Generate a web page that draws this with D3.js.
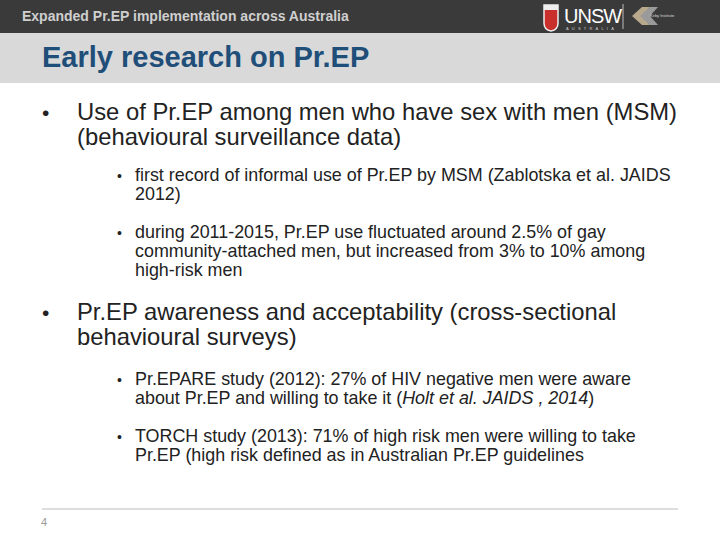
<!DOCTYPE html>
<html><head><meta charset="utf-8">
<script src="https://cdn.jsdelivr.net/npm/d3@7"></script>
<style>body{margin:0}svg{display:block;font-family:"Liberation Sans",Arial,sans-serif}</style>
</head><body><div id="chart"></div>
<script>
var headerText = "Expanded Pr.EP implementation across Australia";
var titleText = "Early research on Pr.EP";
var pageNumber = "4";
// level, lines (each line = array of [text, italic])
var items = [
  {level: 1, lines: [[["Use of Pr.EP among men who have sex with men (MSM)"]], [["(behavioural surveillance data)"]]]},
  {level: 2, lines: [[["first record of informal use of Pr.EP by MSM (Zablotska et al. JAIDS"]], [["2012)"]]]},
  {level: 2, lines: [[["during 2011-2015, Pr.EP use fluctuated around 2.5% of gay"]], [["community-attached men, but increased from 3% to 10% among"]], [["high-risk men"]]]},
  {level: 1, lines: [[["Pr.EP awareness and acceptability (cross-sectional"]], [["behavioural surveys)"]]]},
  {level: 2, lines: [[["Pr.EPARE study (2012): 27% of HIV negative men were aware"]], [["about Pr.EP and willing to take it ("], ["Holt et al. JAIDS , 2014", true], [")"]]]},
  {level: 2, lines: [[["TORCH study (2013): 71% of high risk men were willing to take"]], [["Pr.EP (high risk defined as in Australian Pr.EP guidelines"]]]}
];

var svg = d3.select("#chart").append("svg").attr("width", 720).attr("height", 540);
svg.append("rect").attr("width", 720).attr("height", 540).attr("fill", "#fff");
svg.append("rect").attr("width", 720).attr("height", 33).attr("fill", "#3a3a3a");
svg.append("rect").attr("y", 33).attr("width", 720).attr("height", 50).attr("fill", "#d9d9d9");
svg.append("text").attr("x", 22).attr("y", 21).attr("fill", "#cfcfcf").attr("font-size", 14).attr("font-weight", "bold").text(headerText);
svg.append("text").attr("x", 42).attr("y", 67).attr("fill", "#1f4e79").attr("font-size", 29).attr("font-weight", "bold").text(titleText);

// logos
var lg = svg.append("g");
lg.append("path").attr("d", "M544,5 h14 v18 q0,7 -7,8 q-7,-1 -7,-8 z").attr("fill", "#c9302c").attr("stroke", "#eee").attr("stroke-width", 1.5);
lg.append("rect").attr("x", 544).attr("y", 5).attr("width", 14).attr("height", 5).attr("fill", "#eee");
lg.append("text").attr("x", 564).attr("y", 23).attr("fill", "#fff").attr("font-size", 20).attr("letter-spacing", -1).text("UNSW");
lg.append("text").attr("x", 566).attr("y", 30).attr("fill", "#ccc").attr("font-size", 4).attr("letter-spacing", 3.2).text("AUSTRALIA");
lg.append("line").attr("x1", 623).attr("x2", 623).attr("y1", 4).attr("y2", 29).attr("stroke", "#bbb");
lg.append("path").attr("d", "M632,16 l10,-9 h8 l-8,9 l8,9 h-8 z").attr("fill", "#b8a98c");
lg.append("path").attr("d", "M640,16 l10,-9 h8 l-8,9 l8,9 h-8 z").attr("fill", "#9a9a9a");
lg.append("text").attr("x", 650).attr("y", 17).attr("fill", "#ddd").attr("font-size", 4).text("Kirby Institute");

var cfg = {1: {bx: 42, tx: 77, size: 23.8, lh: 25, bs: 21}, 2: {bx: 117, tx: 135, size: 17.9, lh: 19, bs: 14}};
var gaps = [0, 36, 38, 44, 40, 38];
var y = 120;
items.forEach(function(it, i) {
  var c = cfg[it.level];
  if (i > 0) y += gaps[i];
  svg.append("text").attr("x", c.bx).attr("y", y).attr("font-size", c.bs).attr("fill", "#222").text("•");
  it.lines.forEach(function(line, j) {
    if (j > 0) y += c.lh;
    var t = svg.append("text").attr("x", c.tx).attr("y", y).attr("font-size", c.size).attr("fill", "#222");
    t.selectAll("tspan").data(line).enter().append("tspan")
      .attr("font-style", function(d) { return d[1] ? "italic" : null; })
      .text(function(d) { return d[0]; });
  });
});

svg.append("line").attr("x1", 42).attr("x2", 678).attr("y1", 509).attr("y2", 509).attr("stroke", "#bbb");
svg.append("text").attr("x", 41).attr("y", 526).attr("font-size", 11).attr("fill", "#999").text(pageNumber);
</script></body></html>
